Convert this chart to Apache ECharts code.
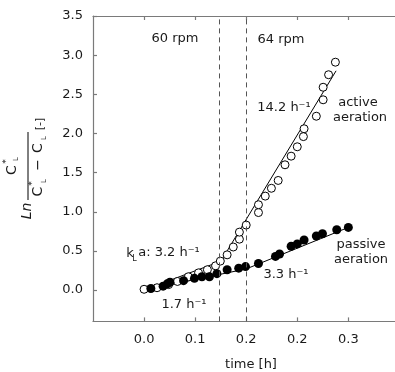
<!DOCTYPE html>
<html><head><meta charset="utf-8">
<script src="https://cdn.jsdelivr.net/npm/echarts@6/dist/echarts.min.js"></script>
<style>html,body{margin:0;padding:0;background:#fff}#c{width:395px;height:372px}</style>
</head><body><div id="c"></div>
<script>
// ---- data ----
const activeTime = [0.000,0.019,0.036,0.049,0.065,0.080,0.093,0.105,0.112,0.122,0.131,0.140,0.140,0.150,0.168,0.168,0.178,0.187,0.197,0.207,0.216,0.225,0.234,0.235,0.253,0.263,0.263,0.271,0.281];
const activeLn   = [0.01,0.03,0.07,0.11,0.17,0.22,0.26,0.31,0.37,0.45,0.55,0.65,0.74,0.83,0.99,1.09,1.20,1.30,1.40,1.60,1.71,1.83,1.96,2.06,2.22,2.43,2.59,2.75,2.91];
const passiveTime = [0.010,0.028,0.034,0.038,0.058,0.074,0.085,0.096,0.107,0.122,0.139,0.149,0.168,0.193,0.199,0.216,0.225,0.235,0.253,0.262,0.283,0.300];
const passiveLn   = [0.02,0.05,0.08,0.10,0.12,0.15,0.17,0.17,0.21,0.26,0.28,0.30,0.34,0.43,0.46,0.56,0.59,0.64,0.69,0.72,0.77,0.80];
const activeFitTime = [0.000,0.113,0.282];
const activeFitLn   = [0.00,0.37,2.80];
const passiveFitTime = [0.000,0.150,0.300];
const passiveFitLn   = [0.00,0.27,0.80];
const rpmChangeTimes = [0.113,0.150];
const xTickValues = [0,0.075,0.15,0.225,0.3];
const xTickLabels = ['0.0','0.1','0.2','0.2','0.3'];
const yTickValues = [0,0.5,1,1.5,2,2.5,3,3.5];

const pairs = (a,b)=>a.map((v,i)=>[v,b[i]]);
const FONT = 'DejaVu Sans';
const AX = '#7a7a7a';
const TXT = '#1a1a1a';

function xFmt(v){
  for (let i=0;i<xTickValues.length;i++) if (Math.abs(v-xTickValues[i])<1e-6) return xTickLabels[i];
  return '';
}
const baseX = {
  type:'value', min:-0.075, max:0.375, interval:0.075,
  axisLine:{show:true, onZero:false, lineStyle:{color:AX, width:1.2}},
  axisTick:{show:true, inside:true, length:4, customValues:xTickValues, lineStyle:{color:AX, width:1.2}},
  splitLine:{show:false}
};
const baseY = {
  type:'value', min:-0.4, max:3.5,
  axisLine:{show:true, onZero:false, lineStyle:{color:AX, width:1.2}},
  axisTick:{show:true, inside:true, length:4, customValues:yTickValues, lineStyle:{color:AX, width:1.2}},
  splitLine:{show:false}
};

const chart = echarts.init(document.getElementById('c'), null, {renderer:'canvas'});
const t = (text, x, y, size, extra) => Object.assign({type:'text', x, y, silent:true,
  style:Object.assign({text, font: size+'px "'+FONT+'"', fill:TXT, textAlign:'center', textVerticalAlign:'middle'}, extra||{})});

chart.setOption({
  animation:false,
  backgroundColor:'#fff',
  grid:{left:93, top:16, width:306.4, height:305.4, containLabel:false, outerBoundsMode:'none'},
  xAxis:[
    Object.assign({}, baseX, {position:'bottom',
      axisLabel:{show:true, customValues:xTickValues, formatter:xFmt, margin:12, color:TXT, fontFamily:FONT, fontSize:13}}),
    Object.assign({}, baseX, {position:'top', axisLabel:{show:false}})
  ],
  yAxis:[
    Object.assign({}, baseY, {position:'left',
      axisLabel:{show:true, customValues:yTickValues, formatter:v=>v.toFixed(1), margin:10, color:TXT, fontFamily:FONT, fontSize:13}}),
    Object.assign({}, baseY, {position:'right', axisLabel:{show:false}})
  ],
  series:[
    {type:'line', data:pairs(activeFitTime, activeFitLn), showSymbol:false, symbol:'none',
     lineStyle:{color:'#000', width:1}, z:2, silent:true,
     markLine:{silent:true, symbol:'none', label:{show:false},
       lineStyle:{color:'#555', width:1, type:[5,4]},
       data:rpmChangeTimes.map(v=>({xAxis:v}))}},
    {type:'line', data:pairs(passiveFitTime, passiveFitLn), showSymbol:false, symbol:'none',
     lineStyle:{color:'#000', width:1}, z:2, silent:true},
    {type:'scatter', data:pairs(activeTime, activeLn), symbol:'circle', symbolSize:8,
     itemStyle:{color:'#fff', borderColor:'#000', borderWidth:1, opacity:1}, z:3},
    {type:'scatter', data:pairs(passiveTime, passiveLn), symbol:'circle', symbolSize:9,
     itemStyle:{color:'#000', borderColor:'#000', borderWidth:0, opacity:1}, z:4}
  ],
  graphic:[
    t('60 rpm', 175, 39, 13),
    t('64 rpm', 281, 40, 13),
    t('14.2 h\u207B\u00B9', 284, 108, 13),
    t('active', 358, 103, 13),
    t('aeration', 360, 118, 13),
    t('passive', 361, 245, 13),
    t('aeration', 361, 260, 13),
    t('3.3 h\u207B\u00B9', 286, 275, 13),
    t('k', 130, 254, 13),
    t('L', 134.5, 259, 8),
    t('a: 3.2 h\u207B\u00B9', 169, 253, 13),
    t('1.7 h\u207B\u00B9', 184, 305, 13),
    t('time [h]', 251, 365, 13),
    {type:'group', x:28, y:220, rotation:Math.PI/2, silent:true, children:[
      t('Ln', 9, -0.5, 14, {font:'italic 14px "'+FONT+'"'}),
      t('C', 50, -15.5, 14),
      t('*', 58.5, -21, 9),
      t('L', 61, -12, 7),
      {type:'line', shape:{x1:20, y1:0, x2:88, y2:0}, style:{stroke:'#000', lineWidth:1}},
      t('C', 28.5, 10.5, 14),
      t('*', 36.5, 5, 9),
      t('L', 39, 16, 7),
      t('\u2212', 55, 10.5, 14),
      t('C', 72, 10.5, 14),
      t('L', 82, 16, 7),
      t('[-]', 96, 12, 11)
    ]}
  ]
});
</script></body></html>
